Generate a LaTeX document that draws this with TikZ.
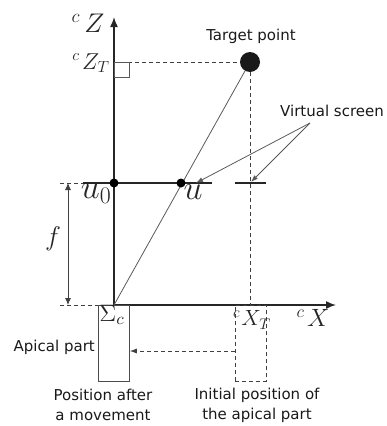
\RequirePackage{fix-cm}
\documentclass[tikz,border=0pt]{standalone}
\usepackage{fontspec}
\newfontfamily\labelfont{DejaVu Sans}
\usetikzlibrary{arrows.meta}
\begin{document}
\begin{tikzpicture}[x=1pt,y=-1pt,
  axis/.style={line width=1.5pt, draw=black!85, -{Latex[length=10pt,width=8pt]}},
  thinline/.style={line width=0.8pt, draw=black!65},
  dashline/.style={line width=0.8pt, draw=black!75, dash pattern=on 4pt off 3pt},
  screenline/.style={line width=2pt, draw=black!85},
  txt/.style={font=\labelfont\fontsize{15}{17}\selectfont, inner sep=0pt, text=black!90},
  mathlbl/.style={inner sep=0pt, text=black!85},
  dot/.style={circle, fill=black, inner sep=0pt, minimum size=9pt},
  tip/.style={-{Latex[length=7pt,width=5pt]}},
]
\useasboundingbox (0,0) rectangle (387,426);

% key positions
\coordinate (O) at (114,305);
\coordinate (Ztip) at (114,17);
\coordinate (Xtip) at (336,305);
\coordinate (ZT) at (114,62);
\coordinate (XT) at (250,305);
\coordinate (sL) at (83,183);
\coordinate (sR) at (212,183);
\coordinate (s2L) at (235,183);
\coordinate (s2R) at (266,183);
\coordinate (s2M) at (251,182);
\coordinate (fTop) at (68,183);
\coordinate (fBot) at (68,305);
\coordinate (eTop) at (60,183);
\coordinate (eBot) at (60,305);
\coordinate (vs) at (310,123);
\coordinate (uTip) at (196,183);
\coordinate (ra) at (129,77);
\coordinate (initArrow) at (235,351);

% target
\node[circle, fill=black!90, inner sep=0pt, minimum size=20pt] (T) at (250,62) {};

% axes
\draw[axis] (O) -- (Ztip);
\draw[axis] (O) -- (Xtip);

% dashed guides to target
\draw[dashline] (ZT) -- (T);
\draw[dashline] (T) -- (XT);
\draw[thinline] (ZT) rectangle (ra);

% line of sight
\draw[thinline] (O) -- (T);

% virtual screen
\draw[screenline] (sL) -- (sR);
\draw[screenline] (s2L) -- (s2R);

% focal length
\draw[dashline] (eTop) -- (sL);
\draw[dashline] (eBot) -- (O);
\draw[line width=0.8pt, draw=black!75, {Latex[length=7pt,width=6pt]}-{Latex[length=7pt,width=6pt]}] (fTop) -- (fBot);

% dots
\node[dot] (u0) at (114,183) {};
\node[dot] (u) at (181,183) {};

% apical part boxes
\node[draw=black!70, line width=0.8pt, minimum width=31pt, minimum height=76pt, inner sep=0pt, anchor=north west] (ap) at (98,305) {};
\node[draw=black!75, line width=0.8pt, dash pattern=on 4pt off 3pt, minimum width=31pt, minimum height=76pt, inner sep=0pt, anchor=north west] (init) at (235,305) {};
\draw[dashline, tip] (init.west |- initArrow) -- (ap.east |- initArrow);

% labels
\node[txt] (tp) at (251,36) {Target point};
\node[txt] (vsl) at (332,111) {Virtual screen};
\draw[thinline, tip] (vs) -- (uTip);
\draw[thinline, tip] (vs) -- (s2M);
\node[txt, anchor=east] (apl) at (95,347) {Apical part};
\node[txt, align=center] (pam) at (103,405) {Position after\\[3pt]a movement};
\node[txt, align=center] (ipa) at (257,405) {Initial position of\\[3pt]the apical part};

\node[mathlbl, font=\fontsize{27}{29}\selectfont] (lZ) at (88,23) {$^{c}\mkern3mu Z$};
\node[mathlbl, font=\fontsize{23}{25}\selectfont] (lZT) at (91,63) {$^{c}\mkern2mu Z_{T}$};
\node[mathlbl, font=\fontsize{34}{36}\selectfont] (lu0) at (96,194) {$u_{0}$};
\node[mathlbl, font=\fontsize{34}{36}\selectfont] (lu) at (193,192) {$u$};
\node[mathlbl, font=\fontsize{27}{29}\selectfont] (lf) at (53,239) {$f$};
\node[mathlbl, font=\fontsize{22}{24}\selectfont] (lXT) at (252,320) {$^{c}\mkern1mu X_{T}$};
\node[mathlbl, font=\fontsize{25}{27}\selectfont] (lX) at (313,318) {$^{c}\mkern2mu X$};
\node[mathlbl, font=\fontsize{14}{16}\selectfont, scale=1.7] (lS) at (112,315) {$\Sigma_{c}$};
\end{tikzpicture}
\end{document}
